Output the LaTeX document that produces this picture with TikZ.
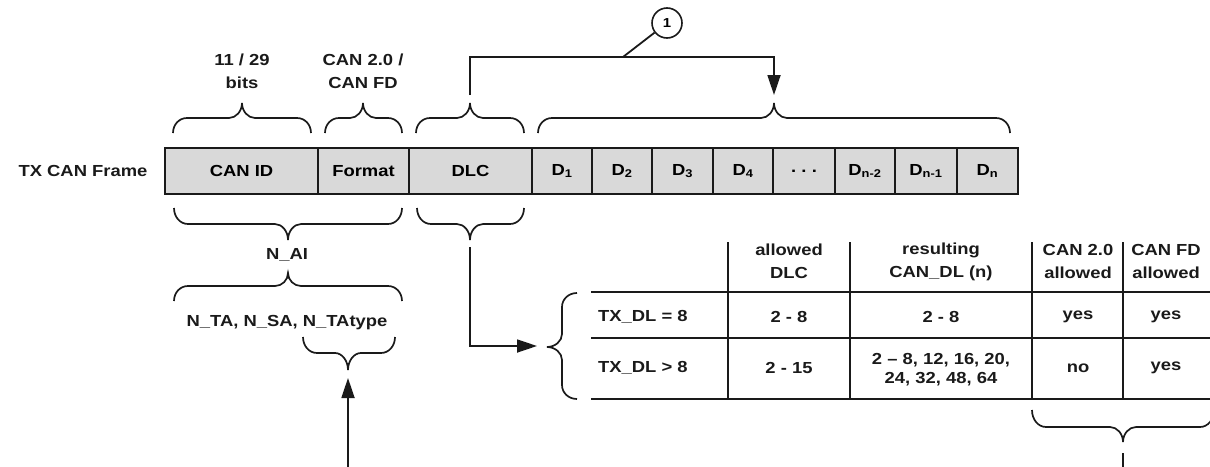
\documentclass[tikz,border=0pt]{standalone}
\usepackage{fontspec}
\setmainfont[FakeStretch=1.15]{Liberation Sans}
\usetikzlibrary{arrows.meta}
\definecolor{cellgray}{HTML}{D9D9D9}
\definecolor{ink}{HTML}{1A1A1A}
\newcommand\mytxtfont{\fontsize{16}{23}\selectfont\bfseries}
\tikzset{
  ln/.style={line width=1.8pt, draw=ink},
  brc/.style={line width=1.7pt, draw=ink},
  cell/.style={draw=ink, line width=1.8pt, fill=cellgray, minimum height=46pt, inner sep=0pt, font=\mytxtfont},
  txt/.style={inner sep=0pt, font=\mytxtfont, align=center, text=ink},
  txtb/.style={txt, font=\fontsize{16}{19}\selectfont\bfseries},
  arr/.style={ln, -{Triangle[length=20pt,width=13pt]}},
}
% horizontal brace: x1 x2 xm yEnd yFlat yTip
\newcommand\mybraceh[6]{%
  \draw[brc] (#1,#4) .. controls (#1,{#5+0.45*(#4-#5)}) and ({#1+6},#5) .. ({#1+14},#5)
    -- ({#3-13},#5)
    .. controls ({#3-6},#5) and (#3,{#5+0.45*(#6-#5)}) .. (#3,#6)
    .. controls (#3,{#5+0.45*(#6-#5)}) and ({#3+6},#5) .. ({#3+13},#5)
    -- ({#2-14},#5)
    .. controls ({#2-6},#5) and (#2,{#5+0.45*(#4-#5)}) .. (#2,#4);}
% vertical brace: y1 y2 ym xEnd xFlat xTip
\newcommand\mybracev[6]{%
  \draw[brc] (#4,#1) .. controls ({#5+0.45*(#4-#5)},#1) and (#5,{#1+6}) .. (#5,{#1+14})
    -- (#5,{#3-13})
    .. controls (#5,{#3-6}) and ({#5+0.45*(#6-#5)},#3) .. (#6,#3)
    .. controls ({#5+0.45*(#6-#5)},#3) and (#5,{#3+6}) .. (#5,{#3+13})
    -- (#5,{#2-14})
    .. controls (#5,{#2-6}) and ({#5+0.45*(#4-#5)},#2) .. (#4,#2);}
\begin{document}
\begin{tikzpicture}[x=1pt,y=-1pt]
\useasboundingbox (0,0) rectangle (1210,466);

% frame label
\node[txt] (frame) at (83,171) {TX CAN Frame};

% frame cells
\node[cell, minimum width=153pt] (canid)  at (241.5,171) {CAN ID};
\node[cell, minimum width=91pt]  (format) at (363.5,171) {Format};
\node[cell, minimum width=123pt] (dlc)    at (470.5,171) {DLC};
\node[cell, minimum width=60pt]  (d1)     at (562,171)   {D\textsubscript{1}};
\node[cell, minimum width=60pt]  (d2)     at (622,171)   {D\textsubscript{2}};
\node[cell, minimum width=61pt]  (d3)     at (682.5,171) {D\textsubscript{3}};
\node[cell, minimum width=60pt]  (d4)     at (743,171)   {D\textsubscript{4}};
\node[cell, minimum width=62pt]  (dots)   at (804,171)   {.\,\,.\,\,.};
\node[cell, minimum width=60pt]  (dn2)    at (865,171)   {D\textsubscript{n-2}};
\node[cell, minimum width=62pt]  (dn1)    at (926,171)   {D\textsubscript{n-1}};
\node[cell, minimum width=61pt]  (dn)     at (987.5,171) {D\textsubscript{n}};

% top labels and braces
\node[txt] (bits) at (242,71) {11 / 29\\bits};
\node[txt] (fmtlbl) at (363,71) {CAN 2.0 /\\CAN FD};
\mybraceh{173}{311}{242}{133}{118}{103}
\mybraceh{325}{402}{363}{133}{118}{103}
\mybraceh{416}{524}{470}{133}{118}{103}
\mybraceh{538}{1010}{774}{133}{118}{103}

% connector 1 (DLC -> data)
\coordinate (dlctop) at (470,95);
\coordinate (datatop) at (774,95);
\coordinate (kink) at (623,57);
\draw[arr] (dlctop) -- (470,57) -| (datatop);
\node[draw=ink, circle, line width=1.6pt, minimum size=30pt, inner sep=0pt,
      font=\fontsize{13}{13}\selectfont\bfseries] (c1) at (667,23) {1};
\draw[ln] (kink) -- (c1);

% bottom braces
\mybraceh{174}{402}{288}{208}{224}{240}
\mybraceh{417}{524}{470}{208}{224}{240}
\node[txt] (nai) at (287,255) {N\_AI};
\mybraceh{174}{402}{288}{301}{286}{273}
\node[txt] (nta) at (287,323) {N\_TA, N\_SA, N\_TAtype};
\mybraceh{303}{395}{348}{337}{353}{370}
\coordinate (botsrc) at (348,470);
\coordinate (tatip) at (348,378);
\draw[arr] (botsrc) -- (tatip);

% DLC -> table arrow
\coordinate (dlcbot) at (470,247);
\coordinate (tabtip) at (537,346);
\draw[arr] (dlcbot) |- (tabtip);

% table brace
\mybracev{293}{399}{347}{577}{562}{547}

% table grid
\draw[ln] (591,292) -- (1212,292);
\draw[ln] (591,338) -- (1212,338);
\draw[ln] (591,399) -- (1212,399);
\foreach \xx in {728,850,1032,1123} \draw[ln] (\xx,242) -- (\xx,399);

% table header
\node[txt] (hdlc) at (789,261.5) {allowed\\DLC};
\node[txt] (hres) at (941,261.5) {resulting\\CAN\_DL (n)};
\node[txt] (hc20) at (1078,261.5) {CAN 2.0\\allowed};
\node[txt] (hcfd) at (1166,261.5) {CAN FD\\allowed};

% row 1
\node[txt, anchor=west] (r1) at (598,317) {TX\_DL = 8};
\node[txt] (r1a) at (789,317) {2 - 8};
\node[txt] (r1b) at (941,317) {2 - 8};
\node[txt] (r1c) at (1078,317) {yes};
\node[txt] (r1d) at (1166,317) {yes};

% row 2
\node[txt, anchor=west] (r2) at (598,368) {TX\_DL > 8};
\node[txt] (r2a) at (789,368) {2 - 15};
\node[txtb] (r2b) at (941,370) {2 -- 8, 12, 16, 20,\\24, 32, 48, 64};
\node[txt] (r2c) at (1078,368) {no};
\node[txt] (r2d) at (1166,368) {yes};

% brace under CAN 2.0 / CAN FD columns
\mybraceh{1032}{1214}{1123}{410}{427}{442}
\coordinate (canfdsrc) at (1123,453);
\coordinate (canfdend) at (1123,472);
\draw[ln] (canfdsrc) -- (canfdend);
\end{tikzpicture}
\end{document}
